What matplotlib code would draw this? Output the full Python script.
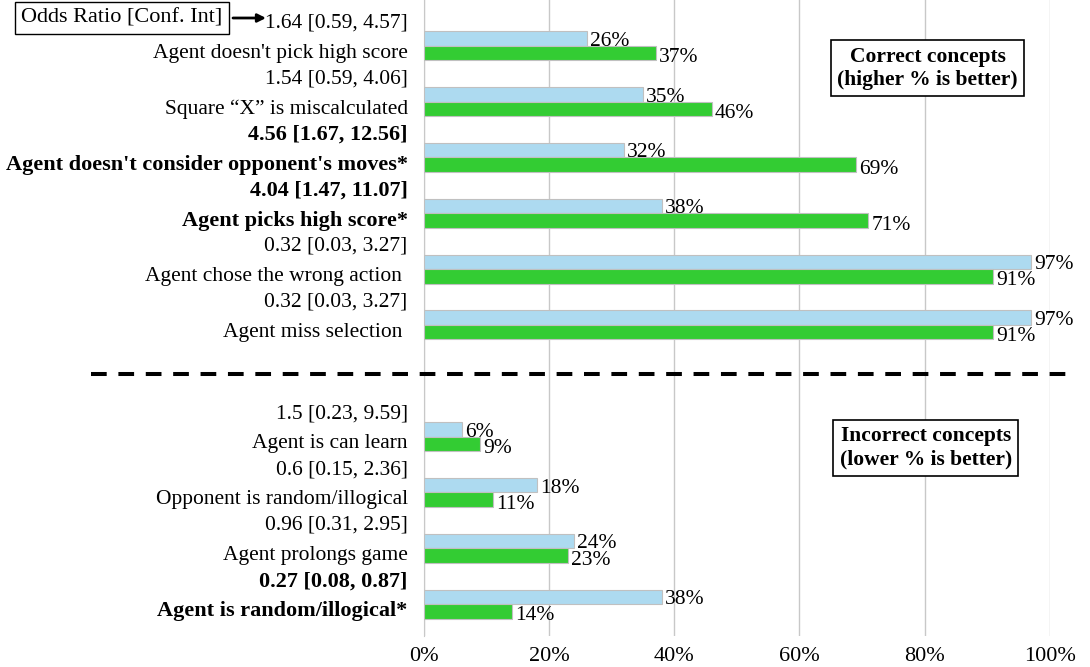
import matplotlib.pyplot as plt
import numpy as np
from matplotlib.transforms import blended_transform_factory

plt.rcParams['font.family'] = ['Liberation Serif', 'DejaVu Serif']

# Data (top to bottom)
concepts = ["Agent doesn't pick high score", "Square \u201cX\u201d is miscalculated",
            "Agent doesn't consider opponent's moves*", "Agent picks high score*",
            "Agent chose the wrong action ", "Agent miss selection ",
            "Agent is can learn", "Opponent is random/illogical",
            "Agent prolongs game", "Agent is random/illogical*"]
odds = ["1.64 [0.59, 4.57]", "1.54 [0.59, 4.06]", "4.56 [1.67, 12.56]",
        "4.04 [1.47, 11.07]", "0.32 [0.03, 3.27]", "0.32 [0.03, 3.27]",
        "1.5 [0.23, 9.59]", "0.6 [0.15, 2.36]", "0.96 [0.31, 2.95]",
        "0.27 [0.08, 0.87]"]
significant = [False, False, True, True, False, False, False, False, False, True]
before = [26, 35, 32, 38, 97, 97, 6, 18, 24, 38]
after = [37, 46, 69, 71, 91, 91, 9, 11, 23, 14]

# slot positions, one empty slot between correct and incorrect groups
pos = np.array([0, 1, 2, 3, 4, 5, 7, 8, 9, 10])

fig = plt.figure(figsize=(10.9, 6.67), dpi=100)
ax = fig.add_axes([0.389, 0.0465, 0.574, 0.9535])

h = 0.26
ax.barh(pos - h / 2, before, height=h, color='#ADDAF0', edgecolor='#c0c0c0', linewidth=0.8, zorder=3)
ax.barh(pos + h / 2, after, height=h, color='#33CC33', edgecolor='#c0c0c0', linewidth=0.8, zorder=3)

for p, b, a in zip(pos, before, after):
    ax.text(b + 0.5, p - h / 2 + 0.05, f"{b}%", va='center', ha='left', fontsize=15.5, zorder=4)
    ax.text(a + 0.5, p + h / 2 + 0.08, f"{a}%", va='center', ha='left', fontsize=15.5, zorder=4)

# two-line category labels
tr = blended_transform_factory(ax.transAxes, ax.transData)
for p, o, c, sig in zip(pos, odds, concepts, significant):
    w = 'bold' if sig else 'normal'
    fs = 16 if sig else 15.5
    ax.text(-0.026, p - 0.41, o, transform=tr, ha='right', va='center', fontsize=fs, fontweight=w)
    ax.text(-0.026, p + 0.13, c, transform=tr, ha='right', va='center', fontsize=fs, fontweight=w)

ax.set_xlim(0, 100)
ax.set_ylim(10.57, -0.82)
ax.set_xticks([0, 20, 40, 60, 80, 100])
ax.set_xticklabels([f"{t}%" for t in [0, 20, 40, 60, 80, 100]], fontsize=16)
ax.set_yticks([])
ax.tick_params(axis='x', length=0, pad=8)
ax.grid(axis='x', color='#c8c8c8', linewidth=1, zorder=0)
for s in ['top', 'right', 'bottom']:
    ax.spines[s].set_visible(False)
ax.spines['left'].set_color('#c8c8c8')

# dashed separator across the whole figure
ax.plot([-0.533, 1.04], [5.88, 5.88], transform=tr, color='black', linewidth=2.9,
        linestyle=(0, (3.9, 2.9)), clip_on=False, zorder=5)

box = dict(boxstyle='square,pad=0.3', facecolor='white', edgecolor='black', linewidth=1.2)
ax.text(80.5, 0.4, "Correct concepts\n(higher % is better)", ha='center', va='center',
        fontsize=15.5, fontweight='bold', bbox=box, zorder=6, linespacing=1.2)
ax.text(80.2, 7.2, "Incorrect concepts\n(lower % is better)", ha='center', va='center',
        fontsize=15.5, fontweight='bold', bbox=box, zorder=6, linespacing=1.2)

# "Odds Ratio" key with arrow
fig.text(122 / 1090, 1 - 18 / 667, "Odds Ratio [Conf. Int]", ha='center', va='center', fontsize=16,
         bbox=dict(boxstyle='square,pad=0.3', facecolor='white', edgecolor='black', linewidth=1))
fig.add_artist(plt.matplotlib.patches.FancyArrowPatch(
    (233 / 1090, 1 - 18 / 667), (266 / 1090, 1 - 18 / 667), transform=fig.transFigure,
    arrowstyle='-|>', mutation_scale=12, color='black', linewidth=2, shrinkA=0, shrinkB=0))

fig.savefig('out.png', dpi=100)
